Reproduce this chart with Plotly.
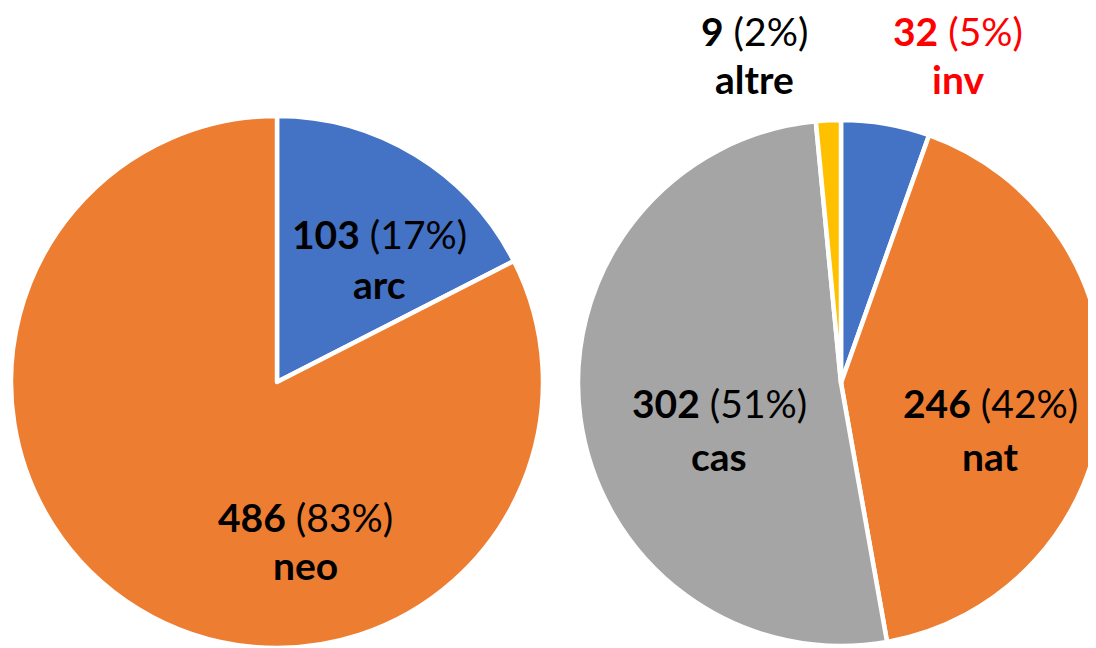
import plotly.graph_objects as go

# Left pie data
left_labels = ["arc", "neo"]
left_values = [103, 486]
left_colors = ["#4472C4", "#ED7D31"]

# Right pie data
right_labels = ["inv", "nat", "cas", "altre"]
right_values = [32, 246, 302, 9]
right_colors = ["#4472C4", "#ED7D31", "#A5A5A5", "#FFC000"]

W, H = 1096, 648

fig = go.Figure()
fig.add_trace(go.Pie(
    labels=left_labels, values=left_values, sort=False, direction="clockwise",
    rotation=0, textinfo="none", hoverinfo="label+value+percent",
    marker=dict(colors=left_colors, line=dict(color="white", width=4.5)),
    domain=dict(x=[3 / W, 535 / W], y=[8 / H, 540 / H]), showlegend=False,
))
fig.add_trace(go.Pie(
    labels=right_labels, values=right_values, sort=False, direction="clockwise",
    rotation=0, textinfo="none", hoverinfo="label+value+percent",
    marker=dict(colors=right_colors, line=dict(color="white", width=4.5)),
    domain=dict(x=[570 / W, 1.0], y=[10 / H, 536 / H]), showlegend=False,
))

# Label placement (pixel centers: x, line1 y, line2 y)
label_pos = {
    "arc": (371, 226, 276),
    "neo": (297, 509, 557),
    "cas": (711, 395, 448),
    "nat": (982, 395, 448),
    "altre": (746, 23, 71),
    "inv": (950, 23, 71),
}
label_color = {"inv": "#FF0000"}

FONT = "Lato"
FS = 39

def add_labels(labels, values):
    total = sum(values)
    for lab, v in zip(labels, values):
        pct = round(v / total * 100)
        x, y1, y2 = label_pos[lab]
        col = label_color.get(lab, "#000000")
        fig.add_annotation(x=x / W, y=1 - y1 / H, xref="paper", yref="paper",
                           text=f"<b>{v}</b> ({pct}%)", showarrow=False,
                           xanchor="center", yanchor="middle",
                           font=dict(family=FONT, size=FS, color=col))
        fig.add_annotation(x=x / W, y=1 - y2 / H, xref="paper", yref="paper",
                           text=f"<b>{lab}</b>", showarrow=False,
                           xanchor="center", yanchor="middle",
                           font=dict(family=FONT, size=FS, color=col))

add_labels(left_labels, left_values)
add_labels(right_labels, right_values)

fig.update_layout(
    width=W, height=H, margin=dict(l=0, r=0, t=0, b=0),
    paper_bgcolor="white", plot_bgcolor="white",
)
fig.write_html("out.html")
